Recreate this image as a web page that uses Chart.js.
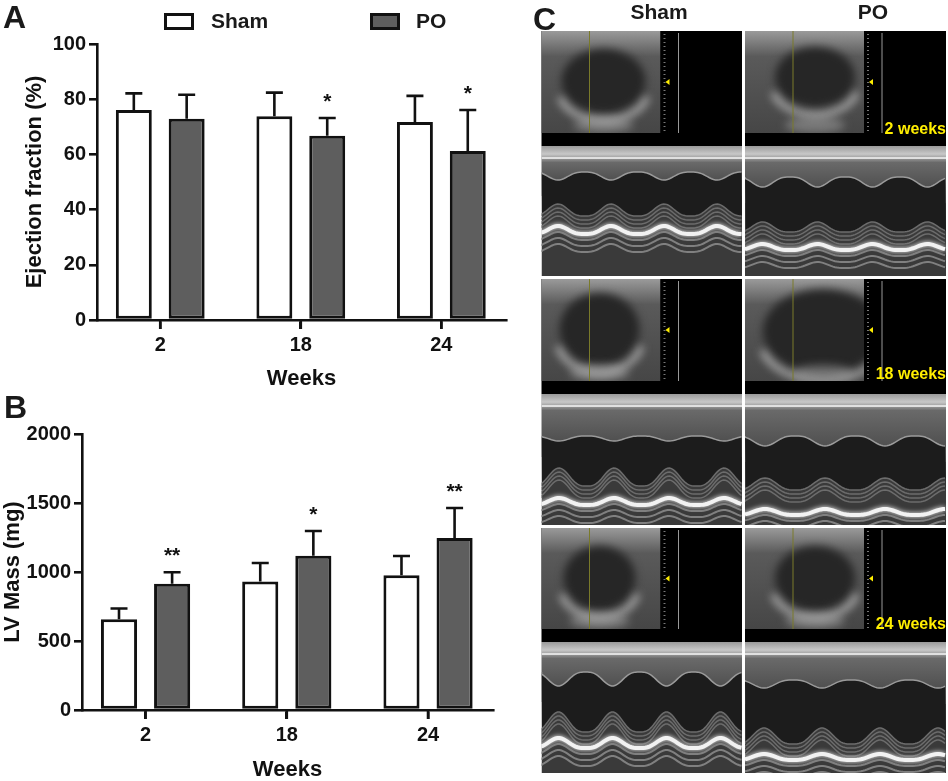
<!DOCTYPE html>
<html>
<head>
<meta charset="utf-8">
<script src="https://cdn.jsdelivr.net/npm/chart.js@4.4.1/dist/chart.umd.min.js"></script>
<style>
  body { margin: 0; background: #fff; width: 948px; height: 781px; overflow: hidden;
         font-family: "Liberation Sans", Arial, sans-serif; }
  .abs { position: absolute; }
  .txt { font-weight: bold; color: #1a1a1a; white-space: nowrap; }
  .letter { font-size: 32px; line-height: 32px; }
  .box { box-sizing: border-box; border: 3px solid #111; }
  .wk { font-size: 16px; line-height: 16px; color: #ffee00; text-align: right; width: 80px; }
</style>
</head>
<body>
<canvas id="chartA" class="abs" style="left:0;top:0" width="530" height="390"></canvas>
<canvas id="chartB" class="abs" style="left:0;top:390px" width="530" height="391"></canvas>
<canvas id="panelC" class="abs" style="left:530px;top:0" width="418" height="781"></canvas>

<div class="abs txt letter" style="left:3px;top:1px">A</div>
<div class="abs txt letter" style="left:4px;top:391px">B</div>
<div class="abs txt letter" style="left:533px;top:3px">C</div>

<!-- legend of panel A -->
<div class="abs box" style="left:164px;top:13px;width:30px;height:17px;background:#fff"></div>
<div class="abs txt" style="left:211px;top:10px;font-size:21px;line-height:21px">Sham</div>
<div class="abs box" style="left:370px;top:13px;width:30px;height:17px;background:#5e5e5e"></div>
<div class="abs txt" style="left:416px;top:10px;font-size:21px;line-height:21px">PO</div>

<!-- column heads of panel C -->
<div class="abs txt" style="left:609px;top:1px;width:100px;text-align:center;font-size:21px;line-height:21px">Sham</div>
<div class="abs txt" style="left:823px;top:1px;width:100px;text-align:center;font-size:21px;line-height:21px">PO</div>
<div class="abs txt wk" style="left:866px;top:121px">2 weeks</div>
<div class="abs txt wk" style="left:866px;top:366px">18 weeks</div>
<div class="abs txt wk" style="left:866px;top:616px">24 weeks</div>

<script>
// Weeks after surgery
const weeks = ['2', '18', '24'];

// A: ejection fraction (%)
const efSham = [76.1, 73.8, 71.7];
const efShamSd = [6.0, 8.6, 9.5];
const efPO = [72.9, 66.8, 61.2];
const efPOSd = [8.7, 6.4, 14.9];
const efPOStars = ['', '*', '*'];
const efTicks = [0, 20, 40, 60, 80, 100];

// B: LV mass (mg)
const massSham = [657, 932, 976];
const massShamSd = [79, 133, 140];
const massPO = [915, 1118, 1246];
const massPOSd = [83, 179, 218];
const massPOStars = ['**', '*', '**'];
const massTicks = [0, 500, 1000, 1500, 2000];

const INK = '#111111';
const FONT = '"Liberation Sans", Arial, sans-serif';

// error bars (upper only), significance stars, tick marks under the groups
const errorBars = {
  id: 'errorBars',
  afterDatasetsDraw(chart) {
    const ctx = chart.ctx;
    const xScale = chart.scales.x, yScale = chart.scales.y;
    chart.data.datasets.forEach((ds, di) => {
      const meta = chart.getDatasetMeta(di);
      meta.data.forEach((bar, i) => {
        const top = yScale.getPixelForValue(ds.data[i].y + ds.sd[i]);
        ctx.save();
        ctx.strokeStyle = INK;
        ctx.lineWidth = 2.6;
        ctx.beginPath();
        ctx.moveTo(bar.x, bar.y);
        ctx.lineTo(bar.x, top);
        ctx.moveTo(bar.x - 8.5, top);
        ctx.lineTo(bar.x + 8.5, top);
        ctx.stroke();
        if (ds.stars && ds.stars[i]) {
          ctx.fillStyle = INK;
          ctx.font = 'bold 21px ' + FONT;
          ctx.textAlign = 'center';
          ctx.textBaseline = 'alphabetic';
          ctx.fillText(ds.stars[i], bar.x, top - 10);
        }
        ctx.restore();
      });
    });
    const y0 = yScale.getPixelForValue(0);
    ctx.save();
    ctx.strokeStyle = INK;
    ctx.lineWidth = 2.6;
    ctx.beginPath();
    xScale.ticks.forEach(t => {
      const px = xScale.getPixelForValue(t.value);
      ctx.moveTo(px, y0);
      ctx.lineTo(px, y0 + 9);
    });
    ctx.stroke();
    ctx.restore();
  }
};

function makeBarChart(id, o) {
  return new Chart(document.getElementById(id), {
    type: 'bar',
    data: {
      datasets: [
        { label: 'Sham', data: o.sham.map((v, i) => ({ x: i, y: v })), sd: o.shamSd,
          backgroundColor: '#ffffff', borderColor: INK, borderWidth: 3, borderSkipped: false },
        { label: 'PO', data: o.po.map((v, i) => ({ x: i, y: v })), sd: o.poSd, stars: o.stars,
          backgroundColor: '#5e5e5e', borderColor: INK, borderWidth: 3, borderSkipped: false }
      ]
    },
    options: {
      responsive: false,
      animation: false,
      devicePixelRatio: 1,
      layout: { padding: { top: 44, right: o.padRight, left: 0, bottom: 0 } },
      plugins: { legend: { display: false }, tooltip: { enabled: false } },
      datasets: { bar: { categoryPercentage: 0.752, barPercentage: 0.68 } },
      scales: {
        x: {
          type: 'linear', min: -0.45, max: 2.46, offset: false,
          afterBuildTicks: s => { s.ticks = weeks.map((w, i) => ({ value: i })); },
          afterFit: s => { s.height = o.xHeight; },
          ticks: { callback: v => weeks[v], color: INK, padding: 4, maxRotation: 0,
                   font: { family: FONT, size: 20, weight: 'bold' } },
          grid: { offset: false, drawOnChartArea: false, tickLength: 9, color: INK, lineWidth: 2.6 },
          border: { color: INK, width: 2.6 },
          title: { display: true, text: 'Weeks', color: INK, padding: 0,
                   font: { family: FONT, size: 22, weight: 'bold', lineHeight: 1 } }
        },
        y: {
          min: 0, max: o.ticks[o.ticks.length - 1],
          afterBuildTicks: s => { s.ticks = o.ticks.map(v => ({ value: v })); },
          afterFit: s => { s.width = o.yWidth; },
          ticks: { callback: v => String(v), color: INK, padding: 3,
                   font: { family: FONT, size: 20, weight: 'bold' } },
          grid: { drawOnChartArea: false, tickLength: 8, color: INK, lineWidth: 2.6 },
          border: { color: INK, width: 2.6 },
          title: { display: true, text: o.yTitle, color: INK, padding: { top: o.titlePad, bottom: 0 },
                   font: { family: FONT, size: 22, weight: 'bold', lineHeight: 1 } }
        }
      }
    },
    plugins: [errorBars]
  });
}

makeBarChart('chartA', {
  sham: efSham, shamSd: efShamSd, po: efPO, poSd: efPOSd, stars: efPOStars, ticks: efTicks,
  yTitle: 'Ejection fraction (%)', yWidth: 97, padRight: 24, xHeight: 70, titlePad: 24
});
makeBarChart('chartB', {
  sham: massSham, shamSd: massShamSd, po: massPO, poSd: massPOSd, stars: massPOStars, ticks: massTicks,
  yTitle: 'LV Mass (mg)', yWidth: 82, padRight: 37, xHeight: 71, titlePad: 2
});

// ---- Panel C: echo images, sketched with plain canvas ----
const pc = document.getElementById('panelC').getContext('2d');
pc.translate(-530, 0);

const cols = [{ x0: 541.5, x1: 742 }, { x0: 745, x1: 946 }];
const rows = [{ b: 31, m: 146, e: 276 }, { b: 279, m: 394, e: 525 }, { b: 528, m: 642, e: 773 }];
// wall positions (offset from top of M-mode strip) for each cell [row][col]
const mmode = [
  [{ per: 53, ant: 26, antAmp: 8, post: 70, postAmp: 12, br: 88, brAmp: 8 },
   { per: 55, ant: 31, antAmp: 10, post: 86, postAmp: 10, br: 104, brAmp: 6 }],
  [{ per: 55, ant: 42, antAmp: 5, post: 92, postAmp: 18, br: 111, brAmp: 7 },
   { per: 60, ant: 42, antAmp: 10, post: 96, postAmp: 12, br: 121, brAmp: 6 }],
  [{ per: 54, ant: 30, antAmp: 14, post: 90, postAmp: 20, br: 106, brAmp: 10 },
   { per: 58, ant: 38, antAmp: 8, post: 102, postAmp: 16, br: 118, brAmp: 6 }]
];
const hearts = [
  [{ cx: 62, cy: 50, rx: 42, ry: 32 }, { cx: 70, cy: 46, rx: 40, ry: 30 }],
  [{ cx: 58, cy: 50, rx: 40, ry: 36 }, { cx: 78, cy: 52, rx: 60, ry: 42 }],
  [{ cx: 58, cy: 50, rx: 36, ry: 32 }, { cx: 70, cy: 50, rx: 40, ry: 32 }]
];

function bmode(x0, x1, y0, y1, h) {
  pc.fillStyle = '#000';
  pc.fillRect(x0, y0, x1 - x0, y1 - y0);
  const iw = 119, ih = y1 - y0 - 13;
  pc.save();
  pc.beginPath(); pc.rect(x0, y0, iw, ih); pc.clip();
  const g = pc.createLinearGradient(0, y0, 0, y0 + ih);
  g.addColorStop(0, '#9a9a9a'); g.addColorStop(0.25, '#5a5a5a'); g.addColorStop(1, '#464646');
  pc.fillStyle = g;
  pc.fillRect(x0, y0, iw, ih);
  pc.filter = 'blur(4px)';
  pc.fillStyle = '#262626';
  pc.beginPath(); pc.ellipse(x0 + h.cx, y0 + h.cy, h.rx, h.ry, 0, 0, Math.PI * 2); pc.fill();
  pc.strokeStyle = 'rgba(225,225,225,0.75)'; pc.lineWidth = 5;
  pc.beginPath(); pc.ellipse(x0 + h.cx, y0 + h.cy + 6, h.rx + 4, h.ry + 2, 0, 0.3, Math.PI * 0.9); pc.stroke();
  pc.fillStyle = 'rgba(170,170,170,0.5)';
  pc.beginPath(); pc.ellipse(x0 + h.cx, y0 + ih - 8, 30, 8, 0, 0, Math.PI * 2); pc.fill();
  pc.filter = 'none';
  pc.restore();
  pc.strokeStyle = '#7a7a2a'; pc.lineWidth = 1;
  pc.beginPath(); pc.moveTo(x0 + 48, y0); pc.lineTo(x0 + 48, y0 + ih); pc.stroke();
  // depth scale
  pc.fillStyle = '#777';
  for (let y = y0 + 3; y < y0 + ih; y += 4) pc.fillRect(x0 + 122, y, 2, 1);
  pc.strokeStyle = '#999';
  pc.beginPath(); pc.moveTo(x0 + 137, y0 + 2); pc.lineTo(x0 + 137, y0 + ih); pc.stroke();
  pc.fillStyle = '#ffee00';
  const ty = y0 + ih * 0.5;
  pc.beginPath(); pc.moveTo(x0 + 124, ty); pc.lineTo(x0 + 128, ty - 3); pc.lineTo(x0 + 128, ty + 3); pc.fill();
}

function mwave(x0, x1, base, amp, per, dir) {
  pc.moveTo(x0, base);
  for (let x = x0; x <= x1; x += 2) {
    const s = Math.pow((1 - Math.cos(2 * Math.PI * (x - x0 + 10) / per)) / 2, 1.6);
    pc.lineTo(x, base + dir * amp * s);
  }
}

function mmodeDraw(x0, x1, y0, y1, p) {
  const w = x1 - x0;
  pc.save();
  pc.beginPath(); pc.rect(x0, y0, w, y1 - y0); pc.clip();
  pc.fillStyle = '#3a3a3a';
  pc.fillRect(x0, y0, w, y1 - y0);
  const top = pc.createLinearGradient(0, y0, 0, y0 + 16);
  top.addColorStop(0, '#9a9a9a'); top.addColorStop(0.5, '#c8c8c8'); top.addColorStop(1, '#707070');
  pc.fillStyle = top;
  pc.fillRect(x0, y0, w, 16);
  pc.fillStyle = '#e0e0e0';
  pc.fillRect(x0, y0 + 11, w, 2);
  const mid = pc.createLinearGradient(0, y0 + 16, 0, y0 + p.ant + p.antAmp);
  mid.addColorStop(0, '#6a6a6a'); mid.addColorStop(1, '#505050');
  pc.fillStyle = mid;
  pc.fillRect(x0, y0 + 16, w, p.ant + p.antAmp);
  // cavity
  pc.fillStyle = '#1c1c1c';
  pc.beginPath();
  mwave(x0, x1, y0 + p.ant, p.antAmp, p.per, 1);
  pc.lineTo(x1, y0 + p.post);
  for (let x = x1; x >= x0; x -= 2) {
    const s = Math.pow((1 - Math.cos(2 * Math.PI * (x - x0 + 10) / p.per)) / 2, 1.6);
    pc.lineTo(x, y0 + p.post - p.postAmp * s);
  }
  pc.closePath(); pc.fill();
  pc.strokeStyle = '#9a9a9a'; pc.lineWidth = 1.5;
  pc.beginPath(); mwave(x0, x1, y0 + p.ant, p.antAmp, p.per, 1); pc.stroke();
  pc.strokeStyle = '#6c6c6c';
  for (let k = 0; k < 4; k++) {
    pc.beginPath(); mwave(x0, x1, y0 + p.post + k * 4, p.postAmp, p.per, -1); pc.stroke();
  }
  pc.shadowColor = '#fff'; pc.shadowBlur = 5;
  pc.strokeStyle = '#f2f2f2'; pc.lineWidth = 4;
  pc.beginPath(); mwave(x0, x1, y0 + p.br, p.brAmp, p.per, -1); pc.stroke();
  pc.shadowBlur = 0;
  pc.strokeStyle = '#808080'; pc.lineWidth = 2;
  for (let k = 1; k < 4; k++) {
    pc.beginPath(); mwave(x0, x1, y0 + p.br + k * 6, p.brAmp, p.per, -1); pc.stroke();
  }
  pc.restore();
}

rows.forEach((r, ri) => {
  cols.forEach((c, ci) => {
    bmode(c.x0, c.x1, r.b, r.m, hearts[ri][ci]);
    mmodeDraw(c.x0, c.x1, r.m, r.e, mmode[ri][ci]);
  });
});
</script>
</body>
</html>
